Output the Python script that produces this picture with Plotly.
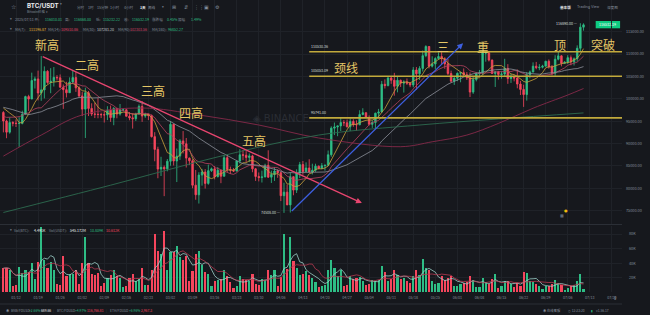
import plotly.graph_objects as go
import pandas as pd

W, H = 650, 315
BG = "#16181D"
GRID = "#1F2228"
GREEN = "#2EBD85"
RED = "#F6465D"
GRAY = "#848E9C"
WHITE = "#EAECEF"
GOLD = "#E6C766"
LEVEL = "#C2AA3C"
CJK = "Noto Sans CJK SC"
SMALL = 3.6

# ---------------- data ----------------
dates = pd.date_range("2025-01-08", periods=185, freq="D")

opens = [
    96950, 95050, 92550, 94700, 94550, 94500, 94520, 96550, 100500, 99950, 104100, 104450, 101300, 102000, 106150, 103650, 103950, 104800, 104700, 102600, 102050, 101350, 103750, 104750,
    102450, 100650, 97700, 101350, 97850, 96600, 96550, 96500, 96450, 96400, 97450, 95800, 97850, 96600, 97500, 97550, 96100, 95750, 95550, 96600, 98300, 96150, 96550, 96250, 91550, 88700, 84300, 84700,
    84350, 86050, 94300, 86100, 87200, 90600, 89950, 86750, 86150, 80700, 78550, 82950, 83650, 81100, 83950, 84350, 82600, 84050, 82700, 86850, 84200, 84050, 83850, 86100, 87500, 87400, 86900, 87250, 84350, 82650, 82400,
    82550, 85150, 82500, 83100, 83850, 83500, 78350, 79150, 76300, 82600, 79600, 83400, 85300, 83750, 84550, 83650, 84050, 84950, 84450, 85050, 85150, 87500, 93450, 93700, 93950, 94700, 94650, 93750, 94950, 94250,
    94200, 96500, 96900, 95850, 94300, 94700, 96800, 97050, 103250, 102950, 104650, 104150, 102800, 104150, 103500, 103750, 103500, 103100, 106450, 105600, 106800, 109650, 111700, 107300, 107800, 109000, 109450, 108950, 107800, 105650, 103950,
    104600, 105700, 105850, 105400, 104700, 101500, 104300, 105600, 105750, 110250, 110270, 108650, 105650, 106050, 105450, 105550, 106800, 104550, 104850, 104650, 103300, 102100, 100950, 105400, 106000, 107300, 106950, 107050, 107300, 108400,
    107150, 105700, 108850, 109600, 107950, 108200, 109200, 108250, 108950, 111300, 116010,
]
highs = [
    97250, 95350, 95850, 95000, 95400, 95900, 97350, 100700, 100900, 105850, 104950, 106300, 109590, 107250, 106400, 106850, 107100, 105300, 105450, 103200, 103800, 104800, 106450, 106050,
    102800, 101500, 102500, 101750, 99000, 99150, 100150, 96900, 97300, 98350, 98500, 98150, 98000, 98850, 97950, 97750, 97050, 96700, 96900, 98750, 99500, 96900, 96650, 96500, 92550, 89300, 87050, 85100,
    86550, 95000, 94400, 88900, 91000, 92800, 91250, 86900, 86500, 84100, 83600, 84350, 84300, 85300, 84650, 85000, 84750, 84050, 87450, 87450, 84850, 84550, 86100, 88750, 88550, 88300, 87800, 87500, 84550, 83550, 83950,
    85500, 88500, 83950, 84700, 84250, 83750, 81250, 80850, 83550, 82700, 84250, 85900, 86100, 85800, 86500, 85500, 85500, 85100, 85650, 85300, 88450, 93850, 94700, 94000, 95750, 95250, 95350, 95600, 95450, 95200,
    97450, 97900, 96950, 96300, 95200, 96900, 97750, 104000, 104350, 104950, 104950, 105800, 104950, 104300, 104150, 104550, 103700, 107100, 107100, 107300, 110800, 111980, 111800, 109500, 109300, 110400, 110700, 109300, 108900, 106300, 104900,
    105900, 105950, 106800, 106000, 105900, 105000, 105900, 106450, 110600, 110500, 110400, 108800, 106200, 106250, 106150, 108950, 107750, 105600, 105250, 106550, 104000, 103150, 106000, 106300, 108150, 108250, 107750, 107600, 108500, 108800,
    107550, 109750, 110550, 109750, 108400, 109750, 109700, 109250, 111950, 116890, 116868,
]
lows = [
    92500, 91200, 92200, 93850, 93700, 89250, 94300, 96450, 97300, 99950, 102300, 99650, 99550, 100100, 103350, 101250, 102750, 104100, 102500, 97750, 100300, 101300, 103300, 101550,
    100300, 96150, 91250, 96150, 96150, 95700, 95650, 95700, 94700, 95250, 94850, 94100, 95650, 96250, 97250, 96050, 95200, 93350, 95050, 96400, 94850, 95750, 95250, 91350, 86050, 82250, 82750, 78250,
    83800, 85050, 85100, 81400, 86350, 87800, 84650, 85200, 80000, 77450, 76600, 80600, 79950, 80800, 83650, 82000, 82450, 81150, 82650, 83650, 83200, 83650, 83800, 85550, 86300, 85850, 85850, 83600, 81650, 81550, 81300,
    82450, 82300, 81200, 81650, 82350, 77150, 74508, 76250, 74600, 78450, 78950, 82300, 83050, 83700, 83600, 83100, 83700, 84250, 84350, 83950, 85100, 87050, 91900, 91650, 92800, 93900, 93600, 92800, 93750, 92900,
    94100, 96300, 95750, 94050, 93500, 93350, 95800, 96900, 102300, 102800, 103350, 100700, 101450, 102650, 101400, 103100, 102600, 102600, 102000, 104200, 106100, 109300, 106800, 107000, 106600, 108700, 107550, 106700, 105300, 103600, 103100,
    103950, 103700, 104950, 104200, 100400, 101100, 103900, 105100, 105350, 108300, 108350, 105650, 102650, 104300, 104500, 104950, 103350, 103550, 103900, 102350, 100850, 98200, 99600, 104600, 105900, 106600, 106400, 106800, 107200, 106750,
    105250, 105150, 108600, 107250, 107800, 107800, 107500, 107450, 108350, 110600, 115232,
]
closes = [
    95050, 92550, 94700, 94550, 94500, 94520, 96550, 100500, 99950, 104100, 104450, 101300, 102000, 106150, 103650, 103950, 104800, 104700, 102600, 102050, 101350, 103750, 104750, 102450,
    100650, 97700, 101350, 97850, 96600, 96550, 96500, 96450, 96400, 97450, 95800, 97850, 96600, 97500, 97550, 96100, 95750, 95550, 96600, 98300, 96150, 96550, 96250, 91550, 88700, 84300, 84700, 84350,
    86050, 94300, 86100, 87200, 90600, 89950, 86750, 86150, 80700, 78550, 82950, 83650, 81100, 83950, 84350, 82600, 84050, 82700, 86850, 84200, 84050, 83850, 86100, 87500, 87400, 86900, 87250, 84350, 82650, 82400, 82550,
    85150, 82500, 83100, 83850, 83500, 78350, 79150, 76300, 82600, 79600, 83400, 85300, 83750, 84550, 83650, 84050, 84950, 84450, 85050, 85150, 87500, 93450, 93700, 93950, 94700, 94650, 93750, 94950, 94250, 94200,
    96500, 96900, 95850, 94300, 94700, 96800, 97050, 103250, 102950, 104650, 104150, 102800, 104150, 103500, 103750, 103500, 103100, 106450, 105600, 106800, 109650, 111700, 107300, 107800, 109000, 109450, 108950, 107800, 105650, 103950, 104600,
    105700, 105850, 105400, 104700, 101500, 104300, 105600, 105750, 110250, 110270, 108650, 105650, 106050, 105450, 105550, 106800, 104550, 104850, 104650, 103300, 102100, 100950, 105400, 106000, 107300, 106950, 107050, 107300, 108400, 107150,
    105700, 108850, 109600, 107950, 108200, 109200, 108250, 108950, 111300, 116010, 116532,
]
# daily volume, thousands of BTC
volumes_k = [
    33, 34, 31, 8, 10, 35, 27, 30, 28, 40, 18, 41, 90, 45, 34, 42, 30, 12, 10, 50, 22, 25, 25, 30,
    12, 40, 76, 40, 25, 24, 27, 8, 13, 20, 24, 30, 22, 20, 7, 8, 19, 25, 15, 18, 33, 10, 10, 31, 80, 57, 52, 84,
    30, 55, 56, 63, 48, 44, 50, 16, 29, 52, 57, 37, 28, 25, 9, 15, 17, 18, 30, 22, 14, 6, 9, 23, 18, 17, 16, 25, 12, 10, 18,
    17, 30, 24, 30, 9, 21, 80, 32, 76, 43, 34, 24, 25, 29, 24, 20, 14, 7, 9, 10, 30, 45, 33, 22, 30, 9, 10, 22, 18, 20,
    21, 15, 10, 12, 17, 16, 17, 36, 28, 15, 18, 31, 24, 18, 20, 16, 13, 22, 30, 24, 46, 33, 31, 16, 12, 13, 23, 17, 20, 22, 9,
    8, 12, 13, 14, 23, 17, 7, 7, 19, 14, 12, 18, 25, 6, 9, 16, 15, 12, 7, 13, 9, 28, 27, 15, 14, 11, 9, 4, 8, 9,
    11, 17, 13, 10, 3, 6, 9, 10, 16, 25, 4.5,
]
# closes before the visible window (2024-12-09 .. 2025-01-07) used by the moving averages
pre_closes = [97400, 96600, 101100, 100000, 101400, 101400, 104300, 106100, 106100, 100200,
              97500, 97800, 97300, 95200, 94900, 98700, 99400, 95800, 94200, 95200,
              93600, 92800, 93600, 94400, 96900, 98100, 98200, 98300, 102100, 96950]

# long moving averages
ma90_dates = ["2025-01-08", "2025-01-20", "2025-02-02", "2025-02-21", "2025-03-11", "2025-03-30", "2025-04-18",
              "2025-05-14", "2025-05-24", "2025-06-04", "2025-06-14", "2025-06-25", "2025-07-06", "2025-07-11"]
ma90_vals = [87200, 91900, 96400, 97950, 96400, 94150, 91250, 89300, 90400, 91900, 94500, 97900, 100850, 102300]
ma180_dates = ["2025-01-08", "2025-02-11", "2025-03-18", "2025-04-18", "2025-05-20", "2025-06-14", "2025-07-11"]
ma180_vals = [74600, 80700, 87200, 91900, 94150, 95500, 96850]

# horizontal levels drawn on the chart
levels = [110530.36, 105053.09, 95741.00]
level_start = "2025-04-15"

# trend lines (start, end)
down_line = [("2025-01-20", 109590), ("2025-05-01 17:00", 76720)]
up_line = [("2025-04-09", 74600), ("2025-06-02 19:00", 112400)]

pattern_labels = [
    ("新高", "2025-01-21 18:00", 112030), ("二高", "2025-02-03 10:00", 107700),
    ("三高", "2025-02-24 13:00", 101750), ("四高", "2025-03-08 12:00", 96990),
    ("五高", "2025-03-28 14:00", 90800), ("颈线", "2025-04-26 14:00", 106950),
    ("三", "2025-05-27 12:00", 111800), ("重", "2025-06-09 05:00", 111800),
    ("顶", "2025-07-03 13:00", 112030), ("突破", "2025-07-17 02:00", 112030),
]

price_ticks = [75000, 80000, 85000, 90000, 95000, 100000, 105000, 110000, 115000]
date_ticks = pd.date_range("2025-01-12", "2025-07-20", freq="7D")
vol_ticks = [20, 40, 60, 80]

assert len(opens) == len(highs) == len(lows) == len(closes) == len(volumes_k) == len(dates)

# ---------------- derived ----------------
all_close = pd.Series(pre_closes + closes)
ma = {n: all_close.rolling(n, min_periods=1).mean().iloc[len(pre_closes):].values for n in (7, 14, 30)}
vol_s = pd.Series(volumes_k)
vma5 = vol_s.rolling(5, min_periods=1).mean()
vma10 = vol_s.rolling(10, min_periods=1).mean()
bar_colors = [GREEN if c >= o else RED for o, c in zip(opens, closes)]

X_RANGE = ["2025-01-06 22:13", "2025-07-23 05:00"]
Y_RANGE = [72028, 122084]
V_RANGE = [0, 91.0]

fig = go.Figure()
fig.add_trace(go.Candlestick(
    x=dates, open=opens, high=highs, low=lows, close=closes,
    increasing=dict(line=dict(color=GREEN, width=0.8), fillcolor=GREEN),
    decreasing=dict(line=dict(color=RED, width=0.8), fillcolor=RED),
    whiskerwidth=0, xaxis="x", yaxis="y", hoverinfo="skip"))

for n, col in ((7, "#C9A13B"), (14, "#B8435F"), (30, "#8B8F99")):
    fig.add_trace(go.Scatter(x=dates, y=ma[n], mode="lines", line=dict(color=col, width=0.8),
                             xaxis="x", yaxis="y", hoverinfo="skip"))
fig.add_trace(go.Scatter(x=ma90_dates, y=ma90_vals, mode="lines", line=dict(color="#86294A", width=0.9, shape="spline"),
                         xaxis="x", yaxis="y", hoverinfo="skip"))
fig.add_trace(go.Scatter(x=ma180_dates, y=ma180_vals, mode="lines", line=dict(color="#2C6B4F", width=0.9, shape="spline"),
                         xaxis="x", yaxis="y", hoverinfo="skip"))

for lv in levels:
    fig.add_trace(go.Scatter(x=[level_start, X_RANGE[1]], y=[lv, lv], mode="lines",
                             line=dict(color=LEVEL, width=1.6), xaxis="x", yaxis="y", hoverinfo="skip"))

fig.add_trace(go.Bar(x=dates, y=volumes_k, marker=dict(color=bar_colors, line=dict(width=0)),
                     width=0.68 * 86400000, xaxis="x2", yaxis="y2", hoverinfo="skip"))
fig.add_trace(go.Scatter(x=dates, y=vma5, mode="lines", line=dict(color="#9CCFC8", width=0.8),
                         xaxis="x2", yaxis="y2", hoverinfo="skip"))
fig.add_trace(go.Scatter(x=dates, y=vma10, mode="lines", line=dict(color="#B83A52", width=0.8),
                         xaxis="x2", yaxis="y2", hoverinfo="skip"))

ann = []


def T(x, y, s, color=GRAY, size=SMALL, anchor="left", family=CJK):
    ann.append(dict(xref="paper", yref="paper", x=x / W, y=1 - y / H, text=s, showarrow=False,
                    xanchor=anchor, yanchor="middle", font=dict(color=color, size=size, family=family)))


# trend lines with arrows
for line, col in ((down_line, "#E8456F"), (up_line, "#3D5FE0")):
    (sx, sy), (ex, ey) = line
    ann.append(dict(x=ex, y=ey, ax=sx, ay=sy, xref="x", yref="y", axref="x", ayref="y", text="",
                    showarrow=True, arrowhead=2, arrowsize=0.9, arrowwidth=1.3, arrowcolor=col, standoff=0))

# pattern labels
for txt, d, p in pattern_labels:
    ann.append(dict(x=d, y=p, xref="x", yref="y", text=txt, showarrow=False,
                    font=dict(color=GOLD, size=12, family=CJK)))

# level labels
for lv in levels:
    ann.append(dict(x=level_start, y=lv, xref="x", yref="y", text=f"{lv:.2f}", showarrow=False,
                    xanchor="left", yanchor="bottom", yshift=1, font=dict(color="#D5D8DC", size=SMALL, family=CJK)))

# extreme labels
ann.append(dict(x="2025-04-07", y=74508, xref="x", yref="y", text="74508.00 —", showarrow=False,
                xanchor="right", yanchor="middle", xshift=-1, font=dict(color="#D5D8DC", size=SMALL, family=CJK)))
ann.append(dict(x="2025-07-10", y=116890, xref="x", yref="y", text="116890.00 —", showarrow=False,
                xanchor="right", yanchor="middle", xshift=0, font=dict(color="#D5D8DC", size=SMALL, family=CJK)))

# watermark
T(262, 118, "◈ BINANCE", color="#2A2D34", size=10, family="DejaVu Sans")

# header row 1
T(9, 6.5, "☆", size=6, family="DejaVu Sans")
T(26, 5.5, "<b>BTC/USDT</b>", color=WHITE, size=6.2, family="Inter")
T(61, 4.5, "▾", size=3.5, family="DejaVu Sans")
T(26, 12, "Bitcoin价格 ▾", size=3.4)
for s, x in (("分时", 78), ("1时", 90), ("15分钟", 99), ("1小时", 113), ("4小时", 128), ("周线", 153)):
    T(x, 7, s)
T(144, 7, "<b>1天</b>", color=WHITE)
T(167, 7, "▾", size=3.5, family="DejaVu Sans")
for s, x in (("⊞", 178), ("⇵", 190), ("⋮⋮", 201), ("▣", 211), ("⚙", 223)):
    T(x, 7, s, size=5, family="DejaVu Sans")
T(583, 7, "<b>基本版</b>", color=WHITE)
T(601, 7, "Trading View", family="Inter")
T(632, 7, "深度图")

# header row 2
T(8, 19, "▾", size=3.5, family="DejaVu Sans")
for s, x, c in (("2025/07/11 开:", 14, GRAY), ("116010.01", 45, GREEN), ("高:", 66, GRAY), ("116868.00", 75, GREEN),
                ("低:", 98, GRAY), ("115232.22", 106, GREEN), ("收:", 128, GRAY), ("116532.19", 136, GREEN),
                ("涨跌幅", 157, GRAY), ("0.45%", 172, GREEN), ("振幅", 184, GRAY), ("1.49%", 197, GREEN)):
    T(x, 19, s, color=c)
# header row 3
T(8, 29, "▾", size=3.5, family="DejaVu Sans")
for s, x, c in (("MA(7):", 14, GRAY), ("111196.87", 28, "#E8B73A"), ("MA(14):", 48, GRAY), ("109510.86", 62, "#E0456B"),
                ("MA(30):", 85, GRAY), ("107281.20", 99, "#C8CCD2"), ("MA(90):", 121, GRAY), ("102303.56", 134, "#D8436A"),
                ("MA(180):", 157, GRAY), ("96852.27", 173, GREEN)):
    T(x, 29, s, color=c)

# volume header
T(8, 230.5, "▾", size=3.5, family="DejaVu Sans")
for s, x, c in (("Vol(BTC):", 13, GRAY), ("4.491K", 33, WHITE), ("Vol(USDT):", 49, GRAY), ("545.172M", 71, WHITE),
                ("10.809K", 92, GREEN), ("10.612K", 109, RED)):
    T(x, 230.5, s, color=c)

# bottom bar
for s, x, c in (("◉", 4, GRAY), ("BNB/FDUSD", 9, GRAY), ("+2.66%", 28.5, GREEN), ("689.66", 41, WHITE), ("|", 53, "#3A3F47"),
                ("BTC/FDUSD", 57, GRAY), ("+4.97%", 76.5, GREEN), ("116,766.81", 89, RED), ("|", 109, "#3A3F47"),
                ("ETH/FDUSD", 113, GRAY), ("+6.96%", 132.5, GREEN), ("2,967.3", 145.5, RED)):
    T(x, 310, s, color=c, size=3.3)
for s, x, c in (("◉ 在线客服", 565, GRAY), ("◷ 12:23:20", 591, GRAY), ("▮", 616, GREEN), ("v1.56.17", 621, GRAY)):
    T(x, 310, s, color=c, size=3.3)

# price badge
T(635.3, 24.7, "116532.19", color="#FFFFFF", anchor="center")
# small corner icons
T(592, 211, "●", color="#F0B90B", size=4, anchor="center", family="DejaVu Sans")
T(587, 215, "■", color="#5E6673", size=4, anchor="center", family="DejaVu Sans")
T(643, 298, "⇕", color=GRAY, size=5, anchor="center", family="DejaVu Sans")

shapes = [
    dict(type="line", xref="paper", yref="paper", x0=0, x1=1, y0=1 - 224.5 / H, y1=1 - 224.5 / H,
         line=dict(color="#2B2F36", width=1)),
    dict(type="line", xref="paper", yref="paper", x0=0, x1=1, y0=1 - 304 / H, y1=1 - 304 / H,
         line=dict(color="#2B2F36", width=1)),
    dict(type="rect", xref="paper", yref="paper", x0=622.5 / W, x1=648 / W, y0=1 - 28.3 / H, y1=1 - 21 / H,
         fillcolor="#0ECB81", line=dict(width=0), layer="below"),
]

axis_font = dict(color=GRAY, size=3.8, family=CJK)
date_font = dict(color=GRAY, size=3.6, family=CJK)
fig.update_layout(
    width=W, height=H, margin=dict(l=0, r=28, t=0, b=0),
    paper_bgcolor=BG, plot_bgcolor=BG, showlegend=False, bargap=0,
    annotations=ann, shapes=shapes,
    xaxis=dict(domain=[0, 1], range=X_RANGE, anchor="y", showticklabels=False, tickvals=list(date_ticks),
               showgrid=True, gridcolor=GRID, gridwidth=1, zeroline=False, showline=False,
               rangeslider=dict(visible=False), fixedrange=True),
    yaxis=dict(domain=[1 - 224 / H, 1], range=Y_RANGE, side="right", anchor="x",
               tickvals=price_ticks, ticktext=[f"{v:.2f}" for v in price_ticks], tickfont=axis_font,
               showgrid=True, gridcolor=GRID, zeroline=False, showline=False, ticks="", ticklabelstandoff=3),
    xaxis2=dict(domain=[0, 1], range=X_RANGE, anchor="y2", matches="x", tickvals=list(date_ticks),
                ticktext=[d.strftime("%m/%d") for d in date_ticks], tickfont=date_font,
                showgrid=True, gridcolor=GRID, zeroline=False, showline=False, ticks="", ticklabelstandoff=2,
                rangeslider=dict(visible=False)),
    yaxis2=dict(domain=[1 - 292.3 / H, 1 - 226 / H], range=V_RANGE, side="right", anchor="x2",
                tickvals=vol_ticks, ticktext=[f"{v}K" for v in vol_ticks], tickfont=axis_font,
                showgrid=True, gridcolor=GRID, zeroline=False, showline=False, ticks="", ticklabelstandoff=6),
)

fig.write_html("out.html", config={"displayModeBar": False})
